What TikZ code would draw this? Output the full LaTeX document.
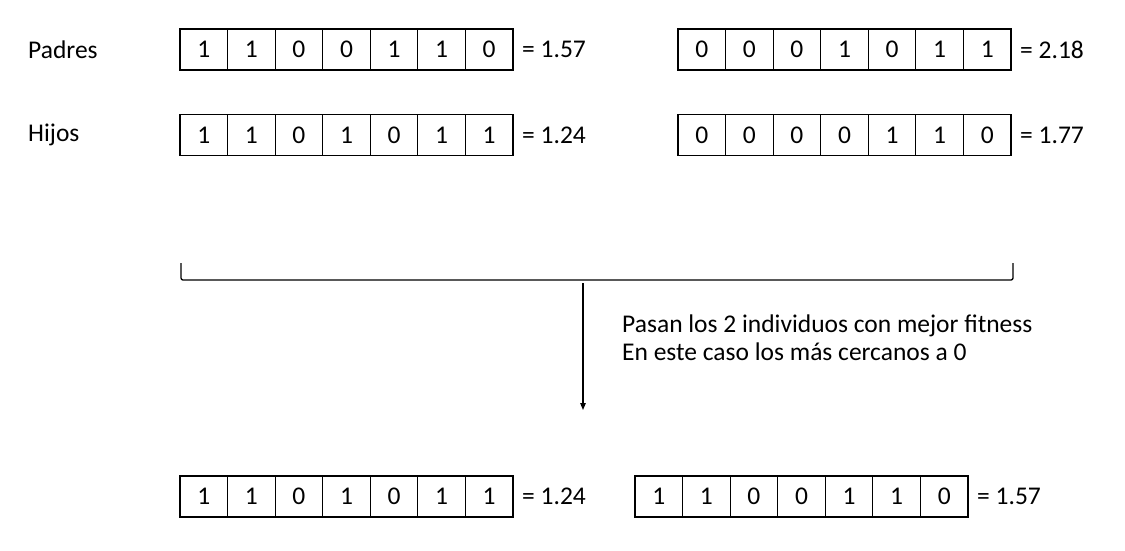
\documentclass[tikz,border=0pt]{standalone}
\usepackage{fontspec}
\setmainfont{Carlito}
\usetikzlibrary{arrows.meta}
\tikzset{
  cellbox/.style={draw, line width=1.1pt, minimum width=47.57pt, minimum height=41pt, inner sep=0pt, font=\fontsize{25.5}{30}\selectfont},
  valtext/.style={anchor=west, inner sep=0pt, font=\fontsize{25.5}{30}\selectfont},
  rowlabel/.style={anchor=west, inner sep=0pt, font=\fontsize{25.5}{30}\selectfont},
  conn/.style={line width=1.3pt}
}
\newcommand{\bitrow}[5]{%
  \foreach \b [count=\i] in {#4} {
    \node[cellbox] (#1-\i) at ({#2+(\i-0.5)*47.57}, #3) {\b};
  }
  \node[valtext] (#1-v) at ({#2+7*47.57+9}, #3) {#5};
}
\begin{document}
\begin{tikzpicture}[x=1pt, y=-1pt]
\useasboundingbox[fill=white] (0,0) rectangle (1125,550);
\node[rowlabel] (padres) at (28,49.5) {Padres};
\node[rowlabel] (hijos) at (28,134.5) {Hijos};
\bitrow{pa}{180}{49.5}{1,1,0,0,1,1,0}{= 1.57}
\bitrow{pb}{678}{49.5}{0,0,0,1,0,1,1}{= 2.18}
\bitrow{ha}{180}{135}{1,1,0,1,0,1,1}{= 1.24}
\bitrow{hb}{678}{135}{0,0,0,0,1,1,0}{= 1.77}
\bitrow{ra}{180}{496.5}{1,1,0,1,0,1,1}{= 1.24}
\bitrow{rb}{635}{496.5}{1,1,0,0,1,1,0}{= 1.57}
\coordinate (bl) at (181,263);
\coordinate (br) at (1013,263);
\coordinate (bm) at (583,283);
\coordinate (tip) at (583,410);
\draw[conn, rounded corners=2pt] (bl) -- (181,280) -- (1013,280) -- (br);
\draw[line width=1.1pt, -{Triangle[length=7pt,width=5.5pt]}] (bm) -- (tip);
\node[anchor=north west, inner sep=0pt, align=left, font=\fontsize{25.5}{28}\selectfont] (note) at (622,315) {Pasan los 2 individuos con mejor fitness\\En este caso los más cercanos a 0};
\end{tikzpicture}
\end{document}
